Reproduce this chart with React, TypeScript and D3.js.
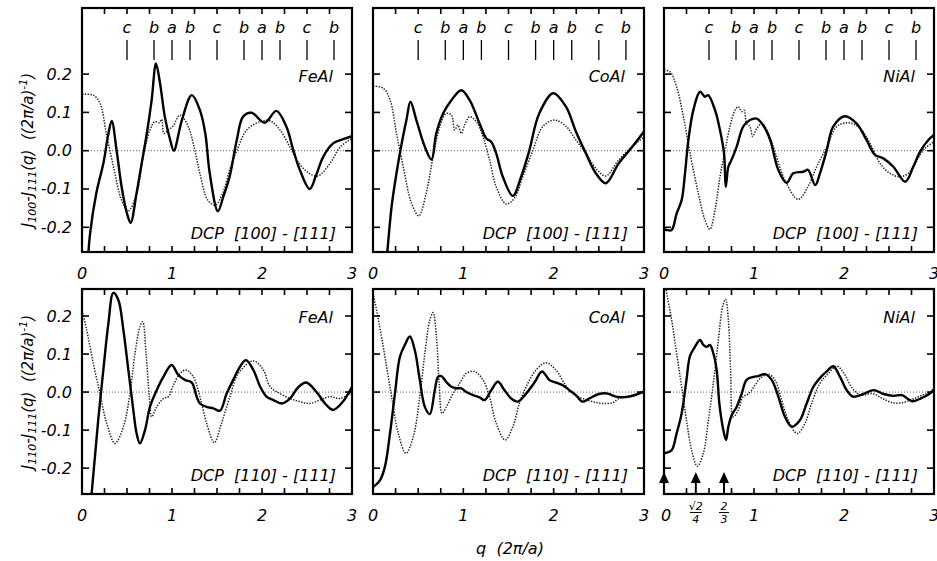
import React from "react";
import * as d3 from "d3";

type Pt = [number, number];

// q (2pi/a), value ((2pi/a)^-1)
const fe100Solid: Pt[] = [[0.06,-0.31],[0.09,-0.216],[0.16,-0.11],[0.24,-0.03],[0.29,0.04],[0.33,0.078],[0.385,0],[0.44,-0.094],[0.5,-0.164],[0.54,-0.188],[0.607,-0.11],[0.663,-0.033],[0.72,0.045],[0.774,0.132],[0.822,0.228],[0.867,0.176],[0.92,0.089],[0.98,0.028],[1.02,0],[1.11,0.08],[1.22,0.145],[1.31,0.106],[1.37,0.045],[1.42,-0.06],[1.51,-0.158],[1.57,-0.12],[1.64,-0.068],[1.72,0.028],[1.79,0.089],[1.885,0.099],[2.03,0.073],[2.16,0.104],[2.27,0.063],[2.35,0],[2.42,-0.05],[2.53,-0.1],[2.6,-0.065],[2.68,-0.016],[2.79,0.019],[2.9,0.03],[3.0,0.038]];
const fe100Dotted: Pt[] = [[0,0.147],[0.126,0.145],[0.2,0.124],[0.27,0.045],[0.35,-0.042],[0.44,-0.129],[0.515,-0.157],[0.61,-0.11],[0.68,-0.016],[0.755,0.054],[0.81,0.076],[0.86,0.073],[0.885,0.082],[0.91,0.045],[0.96,0.054],[1.01,0.064],[1.09,0.093],[1.18,0.063],[1.255,0],[1.31,-0.06],[1.4,-0.13],[1.48,-0.142],[1.57,-0.107],[1.64,-0.05],[1.72,0],[1.83,0.054],[1.98,0.076],[2.09,0.078],[2.2,0.054],[2.31,0.01],[2.385,-0.024],[2.5,-0.055],[2.62,-0.066],[2.756,-0.033],[2.87,0.01],[3.0,0.032]];
const co100Solid: Pt[] = [[0.14,-0.32],[0.158,-0.267],[0.206,-0.146],[0.26,-0.059],[0.316,0.017],[0.37,0.08],[0.415,0.128],[0.48,0.08],[0.574,0.01],[0.647,-0.023],[0.7,0.045],[0.776,0.097],[0.868,0.132],[0.978,0.158],[1.07,0.132],[1.18,0.071],[1.254,0.032],[1.31,0.023],[1.364,-0.007],[1.437,-0.068],[1.548,-0.118],[1.64,-0.068],[1.73,0],[1.84,0.097],[1.996,0.15],[2.136,0.115],[2.246,0.05],[2.357,-0.007],[2.467,-0.059],[2.577,-0.085],[2.72,-0.033],[2.87,0.01],[3.0,0.05]];
const co100Dotted: Pt[] = [[0,0.169],[0.114,0.163],[0.19,0.132],[0.26,0.045],[0.335,-0.042],[0.426,-0.137],[0.507,-0.17],[0.59,-0.11],[0.665,-0.016],[0.74,0.063],[0.81,0.097],[0.868,0.093],[0.904,0.054],[0.94,0.067],[0.978,0.045],[1.015,0.067],[1.07,0.089],[1.143,0.076],[1.217,0.037],[1.29,-0.024],[1.364,-0.094],[1.474,-0.139],[1.566,-0.124],[1.658,-0.068],[1.768,0],[1.88,0.063],[2.007,0.08],[2.136,0.064],[2.246,0.028],[2.357,-0.007],[2.467,-0.046],[2.577,-0.066],[2.72,-0.024],[2.87,0.01],[3.0,0.037]];
const ni100Solid: Pt[] = [[0,-0.205],[0.03,-0.207],[0.085,-0.207],[0.14,-0.164],[0.196,-0.129],[0.233,-0.06],[0.27,0.026],[0.326,0.106],[0.4,0.154],[0.455,0.141],[0.49,0.145],[0.567,0.106],[0.622,0.054],[0.667,-0.007],[0.685,-0.094],[0.696,-0.077],[0.715,-0.042],[0.75,-0.024],[0.807,0.01],[0.88,0.063],[0.955,0.08],[1.03,0.084],[1.1,0.067],[1.18,0.028],[1.27,-0.05],[1.363,-0.084],[1.437,-0.059],[1.548,-0.055],[1.6,-0.05],[1.68,-0.09],[1.733,-0.059],[1.807,0],[1.88,0.063],[2.01,0.09],[2.14,0.071],[2.25,0.028],[2.344,-0.011],[2.437,-0.02],[2.548,-0.042],[2.68,-0.081],[2.77,-0.042],[2.844,-0.003],[2.937,0.028],[3.0,0.041]];
const ni100Dotted: Pt[] = [[0,0.21],[0.067,0.206],[0.14,0.167],[0.215,0.089],[0.29,-0.007],[0.38,-0.11],[0.455,-0.181],[0.51,-0.205],[0.567,-0.155],[0.622,-0.068],[0.678,0],[0.733,0.063],[0.79,0.106],[0.826,0.115],[0.863,0.102],[0.889,0.106],[0.918,0.071],[0.955,0.063],[0.985,0.037],[1.03,0.058],[1.085,0.071],[1.16,0.045],[1.25,-0.016],[1.344,-0.077],[1.49,-0.127],[1.6,-0.094],[1.696,-0.042],[1.807,0.009],[1.92,0.063],[2.05,0.073],[2.18,0.058],[2.29,0.019],[2.4,-0.033],[2.51,-0.059],[2.62,-0.068],[2.715,-0.059],[2.81,-0.024],[2.9,0.006],[3.0,0.023]];

const fe110Solid: Pt[] = [[0.09,-0.33],[0.107,-0.268],[0.144,-0.17],[0.18,-0.074],[0.237,0.058],[0.293,0.18],[0.348,0.261],[0.404,0.242],[0.46,0.163],[0.515,0.058],[0.57,-0.047],[0.607,-0.109],[0.644,-0.135],[0.7,-0.1],[0.755,-0.039],[0.83,0.005],[0.904,0.04],[0.996,0.071],[1.07,0.045],[1.144,0.032],[1.22,0.025],[1.274,-0.012],[1.31,-0.03],[1.385,-0.039],[1.46,-0.043],[1.533,-0.049],[1.607,-0.004],[1.68,0.032],[1.756,0.067],[1.822,0.084],[1.904,0.058],[1.98,0.014],[2.05,-0.012],[2.126,-0.021],[2.22,-0.03],[2.31,-0.017],[2.4,0.012],[2.49,0.025],[2.607,0],[2.7,-0.03],[2.79,-0.047],[2.9,-0.025],[3.0,0.014]];
const fe110Dotted: Pt[] = [[0,0.215],[0.052,0.163],[0.126,0.075],[0.2,-0.004],[0.274,-0.082],[0.367,-0.135],[0.46,-0.091],[0.533,-0.004],[0.589,0.102],[0.644,0.172],[0.674,0.185],[0.711,0.102],[0.748,-0.012],[0.774,-0.065],[0.83,-0.039],[0.904,-0.017],[0.96,-0.012],[1.015,0.018],[1.09,0.049],[1.156,0.058],[1.237,0.04],[1.31,-0.012],[1.385,-0.082],[1.47,-0.133],[1.55,-0.082],[1.644,-0.012],[1.737,0.049],[1.904,0.082],[2.015,0.058],[2.09,0.014],[2.2,-0.004],[2.31,-0.017],[2.42,-0.025],[2.53,-0.03],[2.644,-0.021],[2.756,-0.012],[2.867,-0.017],[3.0,0]];
const co110Solid: Pt[] = [[0,-0.25],[0.077,-0.232],[0.132,-0.196],[0.188,-0.109],[0.243,-0.004],[0.298,0.093],[0.353,0.124],[0.408,0.146],[0.463,0.11],[0.518,0.032],[0.574,-0.039],[0.629,-0.058],[0.684,0.005],[0.72,0.04],[0.757,0.042],[0.81,0.027],[0.868,0.014],[0.923,0.01],[0.978,0.01],[1.033,0],[1.107,-0.008],[1.18,-0.014],[1.235,-0.021],[1.309,0.005],[1.382,0.027],[1.456,0.005],[1.53,-0.017],[1.603,-0.025],[1.695,-0.004],[1.787,0.025],[1.871,0.054],[1.952,0.032],[2.026,0.025],[2.1,0.018],[2.173,0.005],[2.246,-0.008],[2.32,-0.025],[2.393,-0.017],[2.5,-0.005],[2.6,-0.004],[2.69,-0.012],[2.835,-0.012],[3.0,0.001]];
const co110Dotted: Pt[] = [[0,0.26],[0.01,0.25],[0.06,0.19],[0.132,0.093],[0.206,-0.012],[0.28,-0.109],[0.364,-0.161],[0.445,-0.118],[0.518,-0.012],[0.574,0.102],[0.629,0.19],[0.665,0.209],[0.702,0.146],[0.732,0.023],[0.765,-0.056],[0.812,-0.039],[0.886,-0.004],[0.96,0.023],[1.033,0.049],[1.125,0.054],[1.217,0.032],[1.29,-0.012],[1.364,-0.082],[1.463,-0.126],[1.548,-0.091],[1.62,-0.03],[1.695,0.014],[1.805,0.058],[1.915,0.077],[2.026,0.058],[2.118,0.023],[2.21,-0.004],[2.32,-0.017],[2.43,-0.025],[2.54,-0.03],[2.65,-0.028],[2.724,-0.017],[2.87,-0.008],[3.0,0]];
const ni110Solid: Pt[] = [[0,-0.16],[0.02,-0.16],[0.085,-0.153],[0.14,-0.109],[0.196,-0.056],[0.25,0.032],[0.289,0.095],[0.344,0.119],[0.4,0.137],[0.437,0.124],[0.474,0.119],[0.51,0.124],[0.548,0.102],[0.585,0.058],[0.615,-0.03],[0.652,-0.091],[0.689,-0.126],[0.715,-0.091],[0.752,-0.061],[0.807,-0.039],[0.863,-0.004],[0.918,0.032],[0.993,0.04],[1.048,0.042],[1.122,0.047],[1.196,0.032],[1.27,-0.012],[1.344,-0.065],[1.418,-0.091],[1.51,-0.074],[1.585,-0.03],[1.66,0.014],[1.752,0.042],[1.807,0.054],[1.88,0.068],[1.956,0.04],[2.03,0.005],[2.1,-0.012],[2.215,-0.005],[2.33,0.005],[2.44,-0.005],[2.55,-0.01],[2.644,-0.008],[2.756,-0.024],[2.85,-0.017],[2.93,-0.008],[3.0,0.007]];
const ni110Dotted: Pt[] = [[0,0.32],[0.02,0.275],[0.085,0.19],[0.14,0.102],[0.196,0.014],[0.25,-0.074],[0.307,-0.153],[0.37,-0.195],[0.437,-0.161],[0.493,-0.074],[0.548,0.023],[0.6,0.128],[0.652,0.225],[0.685,0.244],[0.715,0.19],[0.74,0.058],[0.77,-0.065],[0.826,-0.047],[0.88,-0.012],[0.937,-0.005],[1.011,0.018],[1.067,0.036],[1.16,0.047],[1.233,0.032],[1.307,-0.021],[1.381,-0.074],[1.48,-0.109],[1.567,-0.082],[1.64,-0.03],[1.733,0.023],[1.826,0.049],[1.92,0.068],[2.0,0.049],[2.093,0.01],[2.185,-0.008],[2.315,-0.004],[2.43,-0.017],[2.537,-0.028],[2.648,-0.028],[2.76,-0.019],[2.87,-0.008],[3.0,0]];

const alloys = ["FeAl", "CoAl", "NiAl"];
const markerQ = [0.5, 0.8, 1.0, 1.2, 1.5, 1.8, 2.0, 2.2, 2.5, 2.8];
const markerLabels = ["c", "b", "a", "b", "c", "b", "a", "b", "c", "b"];
const xTicks = [0, 1, 2, 3];
const yTicks = [-0.2, -0.1, 0.0, 0.1, 0.2];
const arrowQ = [0, Math.SQRT2 / 4, 2 / 3];

const W = 937, H = 561;
const colX: [number, number][] = [[82, 352], [373, 644], [664, 934]];
const rows = [
  { top: 8, bottom: 252, domain: [-0.2645, 0.3726], dir: "100",
    series: [[fe100Solid, fe100Dotted], [co100Solid, co100Dotted], [ni100Solid, ni100Dotted]] },
  { top: 289, bottom: 494, domain: [-0.268, 0.271], dir: "110",
    series: [[fe110Solid, fe110Dotted], [co110Solid, co110Dotted], [ni110Solid, ni110Dotted]] },
];

const FONT = "'DejaVu Sans', 'Liberation Sans', Arial, sans-serif";

function Panel({ ri, ci }: { ri: number; ci: number }) {
  const row = rows[ri];
  const [x0, x1] = colX[ci];
  const x = d3.scaleLinear().domain([0, 3]).range([x0, x1]);
  const y = d3.scaleLinear().domain(row.domain).range([row.bottom, row.top]);
  const line = d3.line<Pt>().x(d => x(d[0])).y(d => y(d[1])).curve(d3.curveCatmullRom.alpha(0.5));
  const [solid, dotted] = row.series[ci];
  const clipId = `clip-${ri}-${ci}`;
  const minor = d3.range(0, 3.001, 0.25);
  const labelY = ri === 0 ? 279 : 521;
  return (
    <g>
      <defs>
        <clipPath id={clipId}>
          <rect x={x0} y={row.top} width={x1 - x0} height={row.bottom - row.top} />
        </clipPath>
      </defs>
      <line x1={x0} x2={x1} y1={y(0)} y2={y(0)} stroke="#333" strokeWidth={0.8} strokeDasharray="1,2" />
      <g clipPath={`url(#${clipId})`}>
        <path d={line(dotted) || ""} fill="none" stroke="#222" strokeWidth={1.5} strokeDasharray="1.4,1.4" />
        <path d={line(solid) || ""} fill="none" stroke="#000" strokeWidth={2.4} strokeLinejoin="round" />
      </g>
      {minor.map((t, i) => (
        <g key={`xt${i}`}>
          <line x1={x(t)} x2={x(t)} y1={row.bottom} y2={row.bottom - 6} stroke="#000" strokeWidth={1.6} />
          <line x1={x(t)} x2={x(t)} y1={row.top} y2={row.top + 6} stroke="#000" strokeWidth={1.6} />
        </g>
      ))}
      {yTicks.map((t, i) => (
        <g key={`yt${i}`}>
          <line x1={x0} x2={x0 + 7} y1={y(t)} y2={y(t)} stroke="#000" strokeWidth={1.6} />
          <line x1={x1} x2={x1 - 7} y1={y(t)} y2={y(t)} stroke="#000" strokeWidth={1.6} />
        </g>
      ))}
      <rect x={x0} y={row.top} width={x1 - x0} height={row.bottom - row.top} fill="none" stroke="#000" strokeWidth={2.2} />
      {xTicks.map(t => (
        (ri === 1 && ci === 2 && t === 0) ? null :
        <text key={`xl${t}`} x={x(t)} y={labelY} textAnchor="middle" fontSize={16} fontStyle="italic" fontFamily={FONT}>{t}</text>
      ))}
      {ci === 0 && yTicks.map(t => (
        <text key={`yl${t}`} x={72} y={y(t) + 5.5} textAnchor="end" fontSize={16} fontStyle="italic" fontFamily={FONT}>{t.toFixed(1)}</text>
      ))}
      <text x={x1 - 19} y={ri === 0 ? 82 : 323} textAnchor="end" fontSize={16} fontStyle="italic" fontFamily={FONT}>{alloys[ci]}</text>
      <text x={x1 - 16} y={ri === 0 ? 239 : 481} textAnchor="end" fontSize={16} fontStyle="italic" fontFamily={FONT} xmlSpace="preserve">{`DCP  [${row.dir}] - [111]`}</text>
      {ri === 0 && markerQ.map((q, i) => (
        <g key={`m${i}`}>
          <line x1={x(q)} x2={x(q)} y1={40} y2={60} stroke="#000" strokeWidth={1.3} />
          <text x={x(q)} y={33} textAnchor="middle" fontSize={16} fontStyle="italic" fontFamily={FONT}>{markerLabels[i]}</text>
        </g>
      ))}
      {ri === 1 && ci === 2 && (
        <g>
          {arrowQ.map((q, i) => (
            <g key={`a${i}`}>
              <line x1={x(q)} x2={x(q)} y1={480} y2={row.bottom} stroke="#000" strokeWidth={2} />
              <path d={`M${x(q)},472 L${x(q) - 5},483 L${x(q) + 5},483 Z`} fill="#000" />
            </g>
          ))}
          <text x={x(0) + 2} y={labelY} textAnchor="middle" fontSize={16} fontStyle="italic" fontFamily={FONT}>0</text>
          <text x={x(arrowQ[1])} y={510} textAnchor="middle" fontSize={11} fontStyle="italic" fontFamily={FONT}>√2</text>
          <line x1={x(arrowQ[1]) - 6} x2={x(arrowQ[1]) + 6} y1={512.5} y2={512.5} stroke="#000" strokeWidth={1} />
          <text x={x(arrowQ[1])} y={523} textAnchor="middle" fontSize={11} fontStyle="italic" fontFamily={FONT}>4</text>
          <text x={x(arrowQ[2])} y={510} textAnchor="middle" fontSize={11} fontStyle="italic" fontFamily={FONT}>2</text>
          <line x1={x(arrowQ[2]) - 5} x2={x(arrowQ[2]) + 5} y1={512.5} y2={512.5} stroke="#000" strokeWidth={1} />
          <text x={x(arrowQ[2])} y={523} textAnchor="middle" fontSize={11} fontStyle="italic" fontFamily={FONT}>3</text>
        </g>
      )}
    </g>
  );
}

function YTitle({ cy, sub }: { cy: number; sub: string }) {
  return (
    <text transform={`translate(33,${cy}) rotate(-90)`} textAnchor="middle" fontSize={15} fontStyle="italic" fontFamily={FONT} xmlSpace="preserve">
      <tspan>J</tspan>
      <tspan fontSize={11} dy={3}>{sub}</tspan>
      <tspan dy={-3}>-J</tspan>
      <tspan fontSize={11} dy={3}>111</tspan>
      <tspan dy={-3}>{"(q)  ((2π/a)"}</tspan>
      <tspan fontSize={11} dy={-6}>-1</tspan>
      <tspan dy={6}>)</tspan>
    </text>
  );
}

export default function App() {
  return (
    <svg width={W} height={H} style={{ position: "absolute", left: 0, top: 0, background: "#fff" }}>
      <rect width={W} height={H} fill="#fff" />
      {rows.map((_, ri) => colX.map((_, ci) => <Panel key={`${ri}-${ci}`} ri={ri} ci={ci} />))}
      <YTitle cy={150} sub="100" />
      <YTitle cy={392} sub="110" />
      <text x={510} y={554} textAnchor="middle" fontSize={16} fontStyle="italic" fontFamily={FONT} xmlSpace="preserve">{"q  (2π/a)"}</text>
    </svg>
  );
}
